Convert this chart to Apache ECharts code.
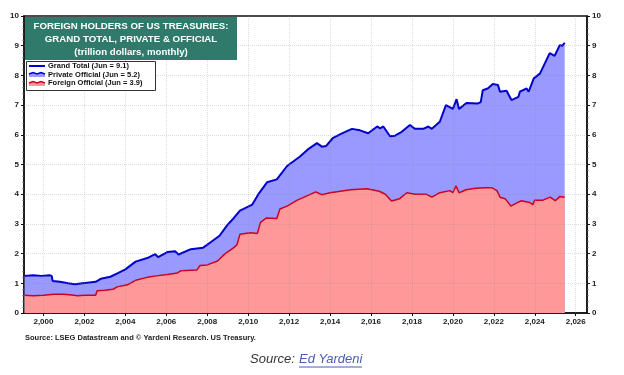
<!DOCTYPE html>
<html>
<head>
<meta charset="utf-8">
<script src="https://cdn.jsdelivr.net/npm/echarts@6/dist/echarts.min.js"></script>
<style>
  html, body { margin: 0; padding: 0; background: #fff; }
  #chart { width: 624px; height: 375px; }
</style>
</head>
<body>
<div id="chart"></div>
<script>
// grand total (trillion $), x in decimal years
const totalYears = [1999.08, 1999.5, 1999.9, 2000.3, 2000.4, 2000.45, 2000.8, 2001.2, 2001.55, 2001.9,
  2002.15, 2002.55, 2002.8, 2003.27, 2003.66, 2004.0, 2004.5, 2005.07, 2005.46, 2005.6,
  2006.05, 2006.43, 2006.6, 2007.2, 2007.8, 2008.2, 2008.6, 2008.97, 2009.3, 2009.6,
  2010.2, 2010.5, 2010.92, 2011.4, 2011.9, 2012.2, 2012.53, 2012.9, 2013.36, 2013.6,
  2013.8, 2014.15, 2014.58, 2015.07, 2015.46, 2015.86, 2016.3, 2016.45, 2016.6, 2016.93,
  2017.17, 2017.5, 2017.9, 2018.15, 2018.55, 2018.8, 2018.97, 2019.36, 2019.66, 2020.0,
  2020.18, 2020.3, 2020.66, 2021.2, 2021.36, 2021.46, 2021.7, 2021.95, 2022.2, 2022.3,
  2022.62, 2022.86, 2023.2, 2023.27, 2023.6, 2023.7, 2023.95, 2024.25, 2024.73, 2024.97,
  2025.05, 2025.22, 2025.35, 2025.46];
const totalValues = [1.25, 1.27, 1.25, 1.27, 1.25, 1.08, 1.05, 1.0, 0.97, 1.0,
  1.02, 1.05, 1.15, 1.22, 1.35, 1.47, 1.73, 1.85, 1.98, 1.88,
  2.05, 2.08, 1.97, 2.15, 2.2, 2.4, 2.6, 2.95, 3.2, 3.45,
  3.65, 4.0, 4.4, 4.5, 4.95, 5.1, 5.27, 5.5, 5.72, 5.6,
  5.62, 5.9, 6.05, 6.2, 6.15, 6.05, 6.28, 6.22, 6.28, 5.95,
  5.97, 6.1, 6.33, 6.2, 6.2, 6.28, 6.2, 6.44, 7.0, 6.87,
  7.2, 6.87, 7.07, 7.05, 7.1, 7.5, 7.56, 7.71, 7.68, 7.45,
  7.48, 7.17, 7.28, 7.45, 7.56, 7.45, 7.9, 8.06, 8.75, 8.66,
  8.62, 9.02, 9.0, 9.1];

// foreign official (trillion $)
const officialYears = [1999.08, 1999.5, 2000.0, 2000.5, 2001.0, 2001.5, 2001.65, 2002.0, 2002.55, 2002.62,
  2003.0, 2003.4, 2003.6, 2004.1, 2004.5, 2005.07, 2005.5, 2006.05, 2006.55, 2006.7,
  2007.5, 2007.65, 2008.0, 2008.5, 2008.88, 2009.3, 2009.45, 2009.6, 2010.1, 2010.45,
  2010.6, 2010.9, 2011.4, 2011.55, 2011.9, 2012.4, 2012.9, 2013.3, 2013.6, 2014.0,
  2015.0, 2015.8, 2016.4, 2016.7, 2017.0, 2017.4, 2017.75, 2018.15, 2018.7, 2018.97,
  2019.36, 2019.85, 2020.0, 2020.15, 2020.3, 2020.65, 2021.1, 2021.55, 2021.9, 2022.15,
  2022.3, 2022.55, 2022.83, 2023.1, 2023.35, 2023.75, 2023.9, 2024.0, 2024.4, 2024.75,
  2025.0, 2025.22, 2025.46];
const officialValues = [0.6, 0.58, 0.6, 0.63, 0.63, 0.6, 0.58, 0.6, 0.6, 0.75,
  0.77, 0.8, 0.88, 0.95, 1.1, 1.2, 1.25, 1.3, 1.35, 1.42,
  1.45, 1.6, 1.62, 1.75, 2.0, 2.2, 2.3, 2.65, 2.7, 2.68,
  3.05, 3.2, 3.18, 3.5, 3.6, 3.8, 3.95, 4.08, 3.98, 4.05,
  4.15, 4.18, 4.1, 4.0, 3.77, 3.85, 4.05, 4.0, 4.0, 3.9,
  4.05, 4.12, 4.05, 4.28, 4.05, 4.15, 4.2, 4.22, 4.22, 4.12,
  3.9, 3.85, 3.6, 3.7, 3.78, 3.72, 3.65, 3.8, 3.8, 3.9,
  3.78, 3.92, 3.9];

const yearTicks = [2000, 2002, 2004, 2006, 2008, 2010, 2012, 2014, 2016, 2018, 2020, 2022, 2024, 2026];
const valueGrid = [1, 2, 3, 4, 5, 6, 7, 8, 9];
const titleLines = ['FOREIGN HOLDERS OF US TREASURIES:', 'GRAND TOTAL, PRIVATE & OFFICIAL', '(trillion dollars, monthly)'];
const legendNames = ['Grand Total (Jun = 9.1)', 'Private Official (Jun = 5.2)', 'Foreign Official (Jun = 3.9)'];

const BLUE = '#0000cc', BLUE_FILL = '#9999ff', RED = '#cc0022', RED_FILL = '#ff9999';
const FONT = 'Liberation Sans, Arial, sans-serif';

const pairs = (xs, ys) => xs.map((x, i) => [x, ys[i]]);

const yAxisBase = {
  type: 'value', min: 0, max: 10, interval: 1,
  axisLine: { show: true, lineStyle: { color: '#111', width: 1.5 } },
  axisTick: { show: true, length: 3, lineStyle: { color: '#111' } },
  minorTick: { show: true, splitNumber: 5, length: 1.5, lineStyle: { color: '#555' } },
  axisLabel: { color: '#222', fontSize: 8, fontWeight: 'bold', fontFamily: FONT, margin: 5 },
  splitLine: { show: false }
};

const chart = echarts.init(document.getElementById('chart'));
chart.setOption({
  animation: false,
  backgroundColor: '#fff',
  grid: { left: 24, right: 37, top: 16, bottom: 62, show: true, borderColor: '#111', borderWidth: 1.5, backgroundColor: 'transparent' },
  xAxis: {
    type: 'value', min: 1999.05, max: 2026.55,
    axisLine: { show: true, lineStyle: { color: '#111', width: 1.5 } },
    axisTick: { show: true, length: 3, customValues: yearTicks, lineStyle: { color: '#111' } },
    axisLabel: { customValues: yearTicks, color: '#222', fontSize: 8, fontWeight: 'bold', fontFamily: FONT, margin: 5 },
    splitLine: { show: false }
  },
  yAxis: [
    Object.assign({}, yAxisBase, { position: 'left' }),
    Object.assign({}, yAxisBase, { position: 'right' })
  ],
  series: [
    {
      name: 'Grand Total', type: 'line', data: pairs(totalYears, totalValues),
      symbol: 'none', z: 2,
      lineStyle: { color: BLUE, width: 2 },
      areaStyle: { color: BLUE_FILL, opacity: 1 }
    },
    {
      name: 'Foreign Official', type: 'line', data: pairs(officialYears, officialValues),
      symbol: 'none', z: 3,
      lineStyle: { color: RED, width: 1.5 },
      areaStyle: { color: RED_FILL, opacity: 1 },
      // grid lines drawn faint on top so they show through the fills
      markLine: {
        silent: true, symbol: 'none', label: { show: false },
        lineStyle: { color: 'rgba(140,140,140,0.3)', type: 'dotted', width: 1 },
        data: yearTicks.map(y => ({ xAxis: y })).concat(valueGrid.map(v => ({ yAxis: v })))
      }
    }
  ],
  graphic: [
    { type: 'rect', left: 25, top: 17, z: 100, shape: { width: 212, height: 43 }, style: { fill: '#2f7a6a' } },
    ...titleLines.map((t, i) => ({
      type: 'text', x: 131, y: 26 + i * 13, z: 101,
      style: { text: t, fill: '#fff', font: 'bold 9.7px ' + FONT, textAlign: 'center', textVerticalAlign: 'middle' }
    })),
    { type: 'rect', left: 26, top: 61, z: 100, shape: { width: 129, height: 29 }, style: { fill: '#fff', stroke: '#333', lineWidth: 1 } },
    { type: 'line', z: 101, shape: { x1: 29, y1: 66, x2: 45, y2: 66 }, style: { stroke: BLUE, lineWidth: 2 } },
    { type: 'polygon', z: 101, shape: { points: [[29, 74], [33, 72.5], [37, 74], [41, 72.5], [45, 74], [45, 77], [29, 77]] }, style: { fill: BLUE_FILL } },
    { type: 'polyline', z: 102, shape: { points: [[29, 74], [33, 72.5], [37, 74], [41, 72.5], [45, 74]] }, style: { stroke: BLUE, lineWidth: 1.5, fill: null } },
    { type: 'polygon', z: 101, shape: { points: [[29, 83], [33, 81.5], [37, 83], [41, 81.5], [45, 83], [45, 86], [29, 86]] }, style: { fill: RED_FILL } },
    { type: 'polyline', z: 102, shape: { points: [[29, 83], [33, 81.5], [37, 83], [41, 81.5], [45, 83]] }, style: { stroke: RED, lineWidth: 1.5, fill: null } },
    ...legendNames.map((t, i) => ({
      type: 'text', x: 48, y: 66 + i * 8.5, z: 101,
      style: { text: t, fill: '#111', font: 'bold 7.5px ' + FONT, textVerticalAlign: 'middle' }
    })),
    {
      type: 'text', x: 25, y: 338, z: 101,
      style: { text: 'Source: LSEG Datastream and \u00a9 Yardeni Research. US Treasury.', fill: '#222', font: 'bold 7.5px ' + FONT, textVerticalAlign: 'middle' }
    },
    {
      type: 'text', x: 250, y: 359, z: 101,
      style: { text: 'Source:', fill: '#333', font: 'italic 13px ' + FONT, textVerticalAlign: 'middle' }
    },
    {
      type: 'text', x: 299, y: 359, z: 101,
      style: { text: 'Ed Yardeni', fill: '#4a5cb4', font: 'italic 13px ' + FONT, textVerticalAlign: 'middle' }
    },
    { type: 'line', z: 101, shape: { x1: 299, y1: 367, x2: 362, y2: 367 }, style: { stroke: '#4a5cb4', lineWidth: 1 } }
  ]
});
</script>
</body>
</html>
